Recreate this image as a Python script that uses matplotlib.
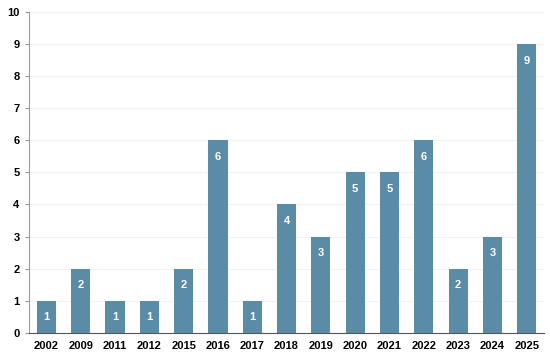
import numpy as np
import matplotlib.pyplot as plt

plt.rcParams['font.family'] = ['Liberation Sans', 'DejaVu Sans']

years = ['2002', '2009', '2011', '2012', '2015', '2016', '2017', '2018',
         '2019', '2020', '2021', '2022', '2023', '2024', '2025']
counts = [1, 2, 1, 1, 2, 6, 1, 4, 3, 5, 5, 6, 2, 3, 9]

fig = plt.figure(figsize=(5.5, 3.58), dpi=100)
ax = fig.add_axes([0.053, 0.07, 0.936, 0.897])

x = np.arange(len(years))
bars = ax.bar(x, counts, width=0.56, color='#5b8ca7', zorder=3)

for xi, c in zip(x, counts):
    ax.annotate(str(c), (xi, c), xytext=(0, -12), textcoords='offset points',
                ha='center', va='center', color='white', fontsize=8,
                fontweight='bold', zorder=4)

ax.set_xlim(-0.5, len(years) - 0.5)
ax.set_ylim(0, 10)
ax.set_yticks(range(0, 11))
ax.set_xticks(x)
ax.set_xticklabels(years)
ax.grid(axis='y', color='#f2f2f2', linewidth=0.8, zorder=0)

for lbl in ax.get_xticklabels() + ax.get_yticklabels():
    lbl.set_fontweight('bold')
    lbl.set_fontsize(8)

ax.tick_params(axis='x', length=0, pad=6)
ax.tick_params(axis='y', length=3, color='#999999', pad=4)
ax.spines['top'].set_visible(False)
ax.spines['right'].set_visible(False)
ax.spines['left'].set_color('#999999')
ax.spines['bottom'].set_color('#555555')

fig.savefig('out.png', dpi=100)
